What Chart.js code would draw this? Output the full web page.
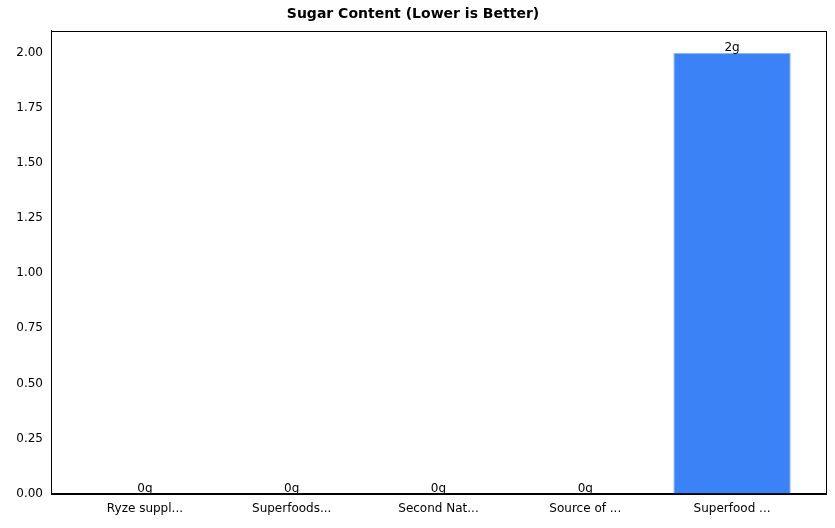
<!DOCTYPE html>
<html><head><meta charset="utf-8">
<script src="https://cdn.jsdelivr.net/npm/chart.js@4"></script>
<style>html,body{margin:0;padding:0;background:#fff}#w{width:835px;height:528px}</style>
</head><body><div id="w"><canvas id="c"></canvas></div>
<script>
const categories = ["Ryze suppl...", "Superfoods...", "Second Nat...", "Source of ...", "Superfood ..."];
const sugarValues = [0, 0, 0, 0, 2];
const valueLabels = ["0g", "0g", "0g", "0g", "2g"];
const yTicks = [0, 0.25, 0.5, 0.75, 1.0, 1.25, 1.5, 1.75, 2.0];

Chart.defaults.font.family = "DejaVu Sans";
Chart.defaults.font.size = 12;
Chart.defaults.color = "#000";

const labelPlugin = {
  id: "lbl",
  afterDatasetsDraw(chart) {
    const ctx = chart.ctx, meta = chart.getDatasetMeta(0);
    ctx.save();
    ctx.font = "12px DejaVu Sans";
    ctx.fillStyle = "#000";
    ctx.textAlign = "center";
    ctx.textBaseline = "bottom";
    meta.data.forEach((b, i) => ctx.fillText(valueLabels[i], b.x, b.y + 1));
    ctx.restore();
  }
};
const framePlugin = {
  id: "frame",
  afterDraw(chart) {
    const a = chart.chartArea, ctx = chart.ctx;
    ctx.save(); ctx.strokeStyle = "#000"; ctx.lineWidth = 1;
    ctx.strokeRect(Math.round(a.left) + 0.5, Math.round(a.top) + 0.5, Math.round(a.right - a.left), Math.round(a.bottom - a.top));
    ctx.restore();
  }
};

new Chart(document.getElementById("c"), {
  type: "bar",
  data: {
    datasets: [{
      data: sugarValues.map((v, i) => ({ x: i, y: v })),
      backgroundColor: "#3b82f6",
      borderColor: "#93b8f8",
      borderWidth: 1,
      barPercentage: 0.8,
      categoryPercentage: 1
    }]
  },
  options: {
    responsive: true, maintainAspectRatio: false, animation: false,
    layout: { padding: { left: 0, right: 9, top: 6, bottom: 8 } },
    plugins: {
      legend: { display: false }, tooltip: { enabled: false },
      title: { display: true, text: "Sugar Content (Lower is Better)", font: { size: 14, weight: "bold" }, padding: { top: 0, bottom: 8 }, color: "#000" }
    },
    scales: {
      x: {
        type: "linear", min: -0.64, max: 4.64, offset: false,
        afterBuildTicks: s => { s.ticks = categories.map((c, i) => ({ value: i })); },
        ticks: { callback: v => categories[v], autoSkip: false, maxRotation: 0, padding: 4 },
        grid: { display: false, drawTicks: true, tickLength: 4, tickColor: "#000" },
        border: { color: "#000" }
      },
      y: {
        min: 0, max: 2.1,
        afterBuildTicks: s => { s.ticks = yTicks.map(v => ({ value: v })); },
        afterFit: s => { s.width = 51; },
        ticks: { callback: v => v.toFixed(2), padding: 4 },
        grid: { display: false, drawTicks: true, tickLength: 4, tickColor: "#000" },
        border: { color: "#000" }
      }
    }
  },
  plugins: [labelPlugin, framePlugin]
});
</script></body></html>
